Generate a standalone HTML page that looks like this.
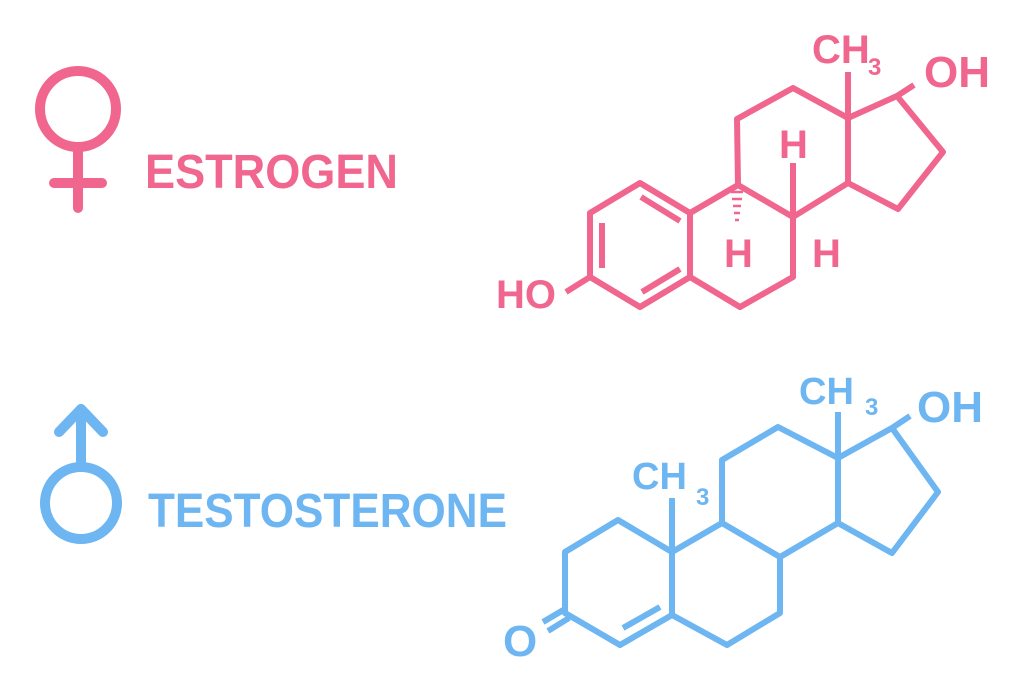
<!DOCTYPE html>
<html><head><meta charset="utf-8"><style>
html,body{margin:0;padding:0;background:#fff}
svg{display:block}
text{font-family:"Liberation Sans",sans-serif;font-weight:bold}
</style></head><body>
<svg width="1024" height="682" viewBox="0 0 1024 682" xmlns="http://www.w3.org/2000/svg">
<rect width="1024" height="682" fill="#fff"/>
<!-- Female symbol -->
<g stroke="#f0668e" stroke-width="10" fill="none" stroke-linecap="round">
<circle cx="78" cy="109" r="38"/>
<line x1="78" y1="148" x2="78" y2="208"/>
<line x1="54" y1="183" x2="102" y2="183"/>
</g>
<text x="145" y="188" font-size="48" fill="#f0668e" textLength="253" lengthAdjust="spacingAndGlyphs">ESTROGEN</text>
<!-- Male symbol -->
<g stroke="#6db6f2" stroke-width="10" fill="none" stroke-linecap="round" stroke-linejoin="round">
<circle cx="81" cy="503" r="36"/>
<line x1="81" y1="467" x2="81" y2="409"/>
<polyline points="59,432 81,409 103,432"/>
</g>
<text x="148" y="527" font-size="48" fill="#6db6f2" textLength="359" lengthAdjust="spacingAndGlyphs">TESTOSTERONE</text>

<!-- Estrogen molecule -->
<g stroke="#f0668e" stroke-width="6" fill="none" stroke-linejoin="round" stroke-linecap="butt">
<polygon points="640,183 590,213 590,277 640,307 690,277 690,213"/>
<line x1="602" y1="223" x2="602" y2="268"/>
<line x1="641" y1="197" x2="680" y2="221"/>
<line x1="680" y1="269" x2="642" y2="292"/>
<line x1="590" y1="277" x2="566" y2="292"/>
<polyline points="690,213 738,185 793,217 793,277 740,307 690,277"/>
<polyline points="738,185 737,119 793,88 848,118 848,183 793,217"/>
<polyline points="848,118 897,96 943,152 898,209 848,183"/>
<line x1="897" y1="96" x2="914" y2="85"/>
<line x1="848" y1="118" x2="848" y2="72"/>
<line x1="793" y1="217" x2="793" y2="163"/>
</g>
<g stroke="#f0668e" stroke-width="2.5">
<line x1="731" y1="192" x2="743" y2="192"/>
<line x1="732" y1="199" x2="742" y2="199"/>
<line x1="733" y1="206" x2="741" y2="206"/>
<line x1="734" y1="213" x2="740" y2="213"/>
<line x1="735" y1="220" x2="739" y2="220"/>
</g>
<g fill="#f0668e">
<text x="496" y="308" font-size="40">HO</text>
<text x="924" y="87" font-size="44">OH</text>
<text x="812" y="63" font-size="40">CH</text>
<text x="868" y="75" font-size="24">3</text>
<text x="779" y="158" font-size="40">H</text>
<text x="724" y="267" font-size="40">H</text>
<text x="812" y="267" font-size="40">H</text>
</g>

<!-- Testosterone molecule -->
<g stroke="#6db6f2" stroke-width="6" fill="none" stroke-linejoin="round">
<polygon points="618,520 565,552 565,613 620,645 672,615 672,552"/>
<line x1="623" y1="628" x2="660" y2="607"/>
<line x1="565" y1="609" x2="543" y2="622"/>
<line x1="569" y1="618" x2="548" y2="631"/>
<line x1="672" y1="552" x2="672" y2="498"/>
<polyline points="672,552 722,523 780,557 780,613 727,645 672,615"/>
<polyline points="722,523 722,460 778,427 838,458 838,523 780,557"/>
<polyline points="838,458 892,428 938,492 892,553 838,523"/>
<line x1="892" y1="428" x2="910" y2="416"/>
<line x1="838" y1="458" x2="838" y2="412"/>
</g>
<g fill="#6db6f2">
<text x="503" y="656" font-size="44">O</text>
<text x="632" y="489" font-size="38">CH</text>
<text x="696" y="505" font-size="24">3</text>
<text x="917" y="422" font-size="44">OH</text>
<text x="799" y="404" font-size="38">CH</text>
<text x="865" y="415" font-size="24">3</text>
</g>
</svg>
</body></html>
